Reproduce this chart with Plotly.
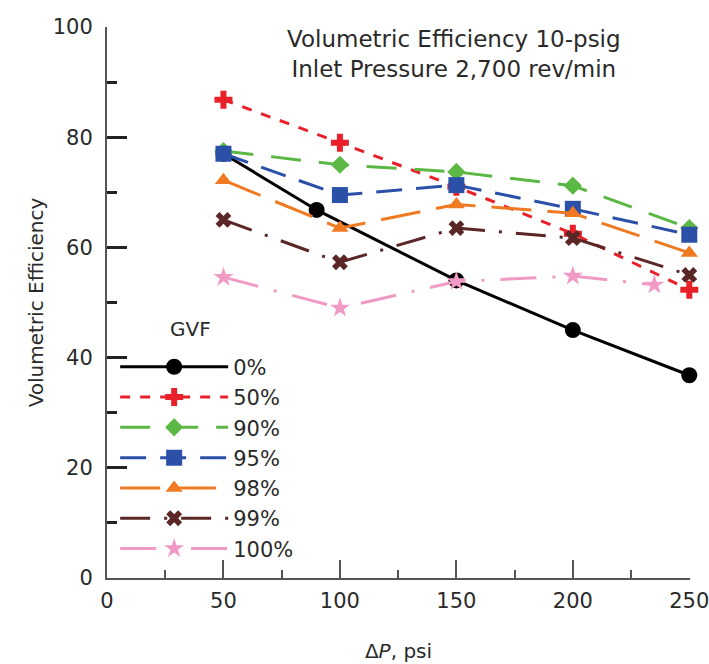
import plotly.graph_objects as go

# ---- data ----
gvf_labels = ["0%", "50%", "90%", "95%", "98%", "99%", "100%"]
x_0 = [50, 90, 150, 200, 250]
y_0 = [77, 66.8, 54, 45, 36.8]
x_50 = [50, 100, 150, 200, 250]
y_50 = [86.8, 79, 71, 62.5, 52.3]
x_90 = [50, 100, 150, 200, 250]
y_90 = [77.5, 75, 73.7, 71.2, 63.5]
x_95 = [50, 100, 150, 200, 250]
y_95 = [77, 69.5, 71.3, 67, 62.3]
x_98 = [50, 100, 150, 200, 250]
y_98 = [72.2, 63.5, 67.8, 66.2, 59]
x_99 = [50, 100, 150, 200, 250]
y_99 = [65, 57.3, 63.5, 61.7, 55]
x_100 = [50, 100, 150, 200, 235]
y_100 = [54.6, 49, 53.8, 54.8, 53.2]

xs = [x_0, x_50, x_90, x_95, x_98, x_99, x_100]
ys = [y_0, y_50, y_90, y_95, y_98, y_99, y_100]

colors = ["#000000", "#e8202a", "#5cb844", "#2b50a8", "#f07a22", "#5a2626", "#f19ac6"]
symbols = ["circle", "cross", "diamond", "square", "triangle-up", "x", "star"]
sizes = [16, 15, 14, 16, 15, 14, 15]
dashes = ["solid", "10px,10px", "30px,18px", "26px,14px", "40px,16px",
          "30px,14px,3px,14px", "36px,16px,3px,16px"]

FONT = "DejaVu Sans"
TXT = "#2a2a2a"

fig = go.Figure()
for lab, x, y, c, s, sz, d in zip(gvf_labels, xs, ys, colors, symbols, sizes, dashes):
    fig.add_trace(go.Scatter(
        x=x, y=y, name=lab, mode="lines+markers",
        line=dict(color=c, width=3, dash=d),
        marker=dict(color=c, symbol=s, size=sz, line=dict(width=0)),
        cliponaxis=False,
    ))

fig.update_layout(
    width=709, height=664,
    margin=dict(l=107, r=19, t=27, b=86, autoexpand=False),
    paper_bgcolor="white", plot_bgcolor="white",
    font=dict(family=FONT, size=20, color=TXT),
    showlegend=True,
    legend=dict(
        x=0.014, y=0.42, xanchor="left", yanchor="top",
        bgcolor="rgba(0,0,0,0)",
        font=dict(family=FONT, size=21, color=TXT),
        itemwidth=108, tracegroupgap=0,
    ),
    annotations=[
        dict(
            text="Volumetric Efficiency 10-psig<br>Inlet Pressure 2,700 rev/min",
            xref="paper", yref="paper", x=0.596, y=1.005, xanchor="center", yanchor="top",
            showarrow=False, font=dict(family=FONT, size=23, color=TXT),
        ),
        dict(
            text="GVF", xref="paper", yref="paper", x=0.143, y=0.451,
            xanchor="center", yanchor="middle", showarrow=False,
            font=dict(family=FONT, size=20, color=TXT),
        ),
    ],
)

fig.update_xaxes(
    range=[0, 250.3], tickmode="linear", tick0=0, dtick=50,
    ticks="inside", ticklen=18, tickwidth=2, tickcolor="#555",
    minor=dict(ticks="inside", ticklen=8, tickwidth=2, tickcolor="#555", dtick=25, showgrid=False),
    showline=True, linecolor="#555", linewidth=2, showgrid=False, zeroline=False,
    automargin=False, ticklabelstandoff=3, ticklabeloverflow="allow",
    title=dict(text="Δ<i>P</i>, psi", standoff=32, font=dict(family=FONT, size=20, color=TXT)),
    tickfont=dict(family=FONT, size=21, color=TXT),
)
fig.update_yaxes(
    range=[0, 100], tickmode="linear", tick0=0, dtick=20,
    ticks="inside", ticklen=20, tickwidth=3, tickcolor="#222",
    minor=dict(ticks="inside", ticklen=10, tickwidth=3, tickcolor="#222", dtick=10, showgrid=False),
    showline=True, linecolor="#555", linewidth=2, showgrid=False, zeroline=False,
    automargin=False, ticklabelstandoff=8,
    title=dict(text="Volumetric Efficiency", standoff=4, font=dict(family=FONT, size=20, color=TXT)),
    tickfont=dict(family=FONT, size=21, color=TXT),
)

fig.write_html(
    "out.html",
    config={"displayModeBar": False},
    post_script="document.body.style.margin='0';document.body.style.overflow='hidden';",
)
